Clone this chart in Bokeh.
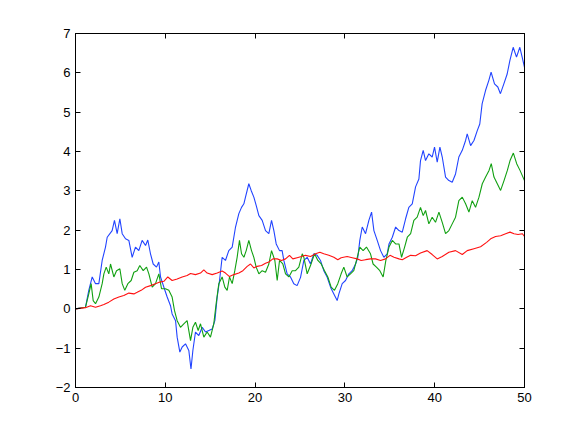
from bokeh.plotting import figure
from bokeh.models import Range1d, LinearAxis, FixedTicker
from bokeh.embed import file_html
from bokeh.resources import INLINE

# ---- data ----
blue_x = [0, 1.11, 1.48, 1.86, 2.23, 2.60, 2.97, 3.34, 3.53, 4.08, 4.34, 4.64, 4.94, 5.20, 5.57, 5.94,
          6.31, 6.68, 7.05, 7.42, 7.80, 8.05, 8.35, 8.65, 9.02, 9.28, 9.47, 9.84, 10.21, 10.58, 10.76,
          11.14, 11.32, 11.62, 11.88, 12.25, 12.62, 12.86, 13.07, 13.36, 13.73, 14.11, 14.48, 14.85,
          15.22, 15.52, 15.78, 16.04, 16.33, 16.70, 17.07, 17.45, 17.82, 18.19, 18.49, 18.75, 18.93,
          19.30, 19.56, 19.86, 20.12, 20.42, 20.79, 21.16, 21.53, 21.83, 22.09, 22.35, 22.72, 23.01,
          23.20, 23.57, 23.94, 24.31, 24.68, 25.06, 25.43, 25.80, 26.17, 26.54, 26.91, 27.28, 27.65,
          28.02, 28.40, 28.77, 29.14, 29.33, 29.70, 30.07, 30.44, 30.81, 31.19, 31.44, 31.66, 31.93,
          32.30, 32.67, 32.97, 33.23, 33.60, 33.97, 34.34, 34.71, 34.91, 35.28, 35.65, 36.02, 36.39,
          36.76, 37.12, 37.50, 37.87, 38.24, 38.42, 38.72, 38.98, 39.35, 39.72, 39.98, 40.28, 40.58,
          40.84, 41.21, 41.58, 41.95, 42.32, 42.69, 43.07, 43.44, 43.62, 44.00, 44.37, 44.74, 45.02,
          45.28, 45.66, 46.03, 46.28, 46.66, 47.03, 47.32, 47.70, 48.07, 48.37, 48.74, 49.11, 49.48,
          49.74, 50.0]
blue_y = [0, 0.04, 0.47, 0.81, 0.64, 0.64, 1.23, 1.57, 1.82, 1.99, 2.25, 1.91, 2.29, 1.91, 1.78, 1.74,
          1.31, 1.57, 1.48, 1.74, 1.61, 1.75, 1.40, 1.14, 1.06, 1.19, 0.81, 0.55, 0.30, 0.08, -0.13,
          -0.30, -0.72, -1.10, -0.97, -0.89, -1.06, -1.53, -1.06, -0.59, -0.68, -0.47, -0.59, -0.55,
          -0.51, -0.30, 0.30, 0.72, 1.31, 1.23, 1.48, 1.57, 2.08, 2.42, 2.58, 2.67, 2.84,
          3.18, 3.01, 2.84, 2.63, 2.37, 2.25, 1.99, 1.91, 2.25, 1.99, 1.65, 1.48, 1.48,
          1.23, 0.89, 0.81, 0.64, 0.59, 0.80, 1.23, 1.31, 1.14, 1.40, 1.36, 1.23, 0.97,
          0.81, 0.55, 0.38, 0.21, 0.38, 0.64, 0.72, 0.89, 0.97, 1.14, 1.31, 1.74, 2.08,
          1.91, 2.25, 2.46, 1.99, 1.74, 1.48, 1.31, 1.40, 1.65, 1.82, 2.08, 1.99, 1.95,
          2.29, 2.58, 2.67, 3.10, 3.30, 3.77, 4.03, 3.77, 3.94, 3.86, 4.11, 3.73, 4.11,
          3.86, 3.35, 3.26, 3.22, 3.43, 3.86, 4.03, 4.28, 4.45, 4.15, 4.28, 4.53, 4.70,
          5.21, 5.55, 5.81, 6.02, 5.72, 5.64, 5.47, 5.72, 5.97, 6.31, 6.65, 6.40, 6.65,
          6.40, 6.14]

green_x = [0, 1.11, 1.48, 1.74, 1.97, 2.23, 2.60, 2.97, 3.16, 3.42, 3.71, 3.90, 4.27, 4.57, 4.94, 5.20,
           5.49, 5.83, 6.20, 6.50, 6.87, 7.16, 7.54, 7.91, 8.17, 8.54, 8.91, 9.28, 9.58, 10.02, 10.39,
           10.76, 11.02, 11.32, 11.69, 12.06, 12.43, 12.81, 13.07, 13.36, 13.66, 13.92, 14.29, 14.66,
           15.03, 15.40, 15.66, 15.96, 16.33, 16.63, 16.89, 17.15, 17.45, 17.74, 18.00, 18.26, 18.49,
           18.75, 19.01, 19.30, 19.60, 19.86, 20.12, 20.42, 20.79, 21.16, 21.53, 21.83, 22.20, 22.46,
           22.72, 23.09, 23.39, 23.76, 24.13, 24.50, 24.87, 25.25, 25.43, 25.80, 26.17, 26.62, 26.99,
           27.36, 27.73, 28.10, 28.47, 28.84, 29.21, 29.58, 29.88, 30.25, 30.62, 30.99, 31.29, 31.66,
           32.03, 32.40, 32.85, 33.14, 33.51, 33.89, 34.26, 34.56, 34.91, 35.28, 35.65, 36.02, 36.31,
           36.65, 36.95, 37.32, 37.68, 38.05, 38.42, 38.72, 38.98, 39.35, 39.72, 40.09, 40.47, 40.84,
           41.21, 41.58, 41.95, 42.32, 42.69, 43.07, 43.44, 43.81, 44.18, 44.55, 44.93, 45.30, 45.67,
           46.05, 46.30, 46.60, 46.97, 47.34, 47.72, 48.09, 48.39, 48.76, 49.13, 49.50, 50.0]
green_y = [0, 0.04, 0.38, 0.64, 0.21, 0.13, 0.30, 0.64, 0.89, 1.06, 0.89, 1.14, 0.81, 0.97, 1.02, 0.64,
           0.47, 0.64, 0.72, 0.93, 0.97, 1.10, 0.97, 1.06, 0.89, 0.55, 0.64, 0.89, 0.51, 0.51, 0.47,
           0.30, -0.04, -0.30, -0.47, -0.38, -0.30, -0.81, -0.47, -0.34, -0.55, -0.38, -0.72, -0.59,
           -0.72, -0.38, 0.13, 0.64, 0.81, 0.55, 0.47, 0.81, 0.64, 0.97, 1.31, 1.74, 1.40,
           1.31, 1.48, 1.74, 1.48, 1.31, 1.06, 0.89, 0.97, 0.93, 1.14, 1.48, 1.23, 0.72,
           1.23, 1.14, 0.89, 0.81, 0.97, 0.97, 1.06, 1.40, 1.31, 0.89, 1.10, 1.40, 1.23,
           1.14, 0.97, 0.81, 0.55, 0.47, 0.64, 0.89, 1.06, 0.81, 0.89, 0.97, 1.23, 1.57,
           1.48, 1.57, 1.40, 1.14, 1.06, 0.97, 0.81, 1.23, 1.57, 1.74, 1.65, 1.65, 1.31,
           1.57, 1.82, 1.91, 2.25, 2.33, 2.58, 2.37, 2.50, 2.16, 2.33, 2.20, 2.46, 2.20,
           1.91, 1.99, 2.16, 2.33, 2.75, 2.84, 2.67, 2.46, 2.75, 2.58, 2.84, 3.18, 3.35,
           3.52, 3.69, 3.35, 3.18, 3.01, 3.26, 3.52, 3.77, 3.96, 3.69, 3.52, 3.26]

red_x = [0, 1.11, 1.67, 2.23, 2.78, 3.16, 3.71, 4.27, 4.83, 5.38, 5.94, 6.50, 6.87, 7.31, 7.80, 8.35,
         8.91, 9.39, 9.84, 10.28, 10.76, 11.32, 11.88, 12.43, 12.81, 13.36, 13.92, 14.29, 14.66,
         15.22, 15.78, 16.33, 16.70, 17.15, 17.63, 18.19, 18.64, 19.12, 19.49, 19.86, 20.23, 20.72,
         21.16, 21.53, 21.98, 22.46, 22.94, 23.39, 23.83, 24.20, 24.68, 25.17, 25.61, 26.17, 26.73,
         27.21, 27.65, 28.21, 28.77, 29.21, 29.58, 30.25, 30.81, 31.37, 31.81, 32.30, 32.85, 33.41,
         33.97, 34.53, 35.02, 35.47, 36.02, 36.39, 36.88, 37.32, 37.87, 38.42, 39.16, 39.72, 40.28,
         40.84, 41.58, 42.32, 43.07, 43.62, 44.37, 45.11, 45.78, 46.23, 46.78, 47.34, 47.90, 48.39,
         48.83, 49.28, 49.77, 50.0]
red_y = [0, 0.03, 0.08, 0.04, 0.08, 0.11, 0.17, 0.25, 0.30, 0.34, 0.40, 0.38, 0.42, 0.47, 0.55, 0.59,
         0.64, 0.68, 0.70, 0.81, 0.72, 0.76, 0.81, 0.85, 0.90, 0.87, 0.91, 0.99, 0.91,
         0.87, 0.91, 0.96, 0.91, 0.82, 0.87, 0.91, 0.97, 1.08, 1.14, 1.04, 1.08, 1.10,
         1.16, 1.19, 1.27, 1.27, 1.23, 1.27, 1.36, 1.27, 1.30, 1.33, 1.36, 1.33, 1.40,
         1.44, 1.40, 1.36, 1.31, 1.25, 1.30, 1.33, 1.30, 1.27, 1.23, 1.25, 1.27, 1.27,
         1.23, 1.27, 1.36, 1.31, 1.27, 1.25, 1.31, 1.36, 1.35, 1.42, 1.48, 1.38, 1.27,
         1.33, 1.44, 1.48, 1.38, 1.48, 1.53, 1.58, 1.69, 1.78, 1.84, 1.86, 1.91, 1.95,
         1.91, 1.89, 1.91, 1.84]

x_ticks = [0, 10, 20, 30, 40, 50]
y_ticks = [-2, -1, 0, 1, 2, 3, 4, 5, 6, 7]

FONT = "Liberation Sans"

p = figure(width=563, height=419, output_backend="svg", toolbar_location=None,
           x_range=Range1d(0, 50), y_range=Range1d(-2, 7),
           min_border_left=75, min_border_right=39, min_border_top=33, min_border_bottom=32)
p.background_fill_color = "white"
p.border_fill_color = "white"
p.outline_line_color = "black"
p.outline_line_width = 1
p.grid.visible = False

p.line(blue_x, blue_y, line_color="#2244ff", line_width=1.1)
p.line(green_x, green_y, line_color="#11a011", line_width=1.1)
p.line(red_x, red_y, line_color="#ff1111", line_width=1.1)

def style(ax, labels=True):
    ax.axis_line_color = "black"
    ax.major_tick_in = 5
    ax.major_tick_out = 0
    ax.minor_tick_in = 0
    ax.minor_tick_out = 0
    ax.major_tick_line_color = "black"
    ax.major_label_text_font = FONT
    ax.major_label_text_font_size = "13px"
    ax.major_label_text_color = "black"
    ax.major_label_standoff = 5
    if not labels:
        ax.major_label_text_alpha = 0
        ax.major_label_text_font_size = "1px"

p.xaxis.ticker = FixedTicker(ticks=x_ticks)
p.yaxis.ticker = FixedTicker(ticks=y_ticks)
style(p.xaxis[0]); style(p.yaxis[0])

ra = LinearAxis(ticker=FixedTicker(ticks=y_ticks))
style(ra, labels=False)
p.add_layout(ra, "right")
ta = LinearAxis(ticker=FixedTicker(ticks=x_ticks))
style(ta, labels=False)
p.add_layout(ta, "above")

open("out.html", "w").write(file_html(p, INLINE))
